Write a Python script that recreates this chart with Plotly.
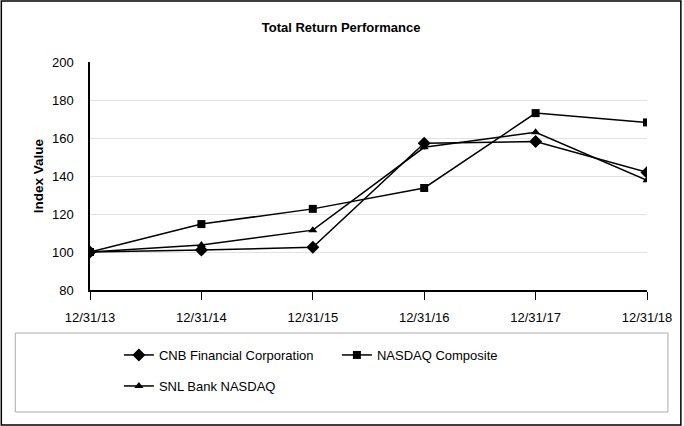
import plotly.graph_objects as go

dates = ["12/31/13", "12/31/14", "12/31/15", "12/31/16", "12/31/17", "12/31/18"]
cnb = [100.0, 101.0, 102.5, 157.2, 158.1, 141.9]
nasdaq = [100.0, 114.7, 122.7, 133.7, 173.1, 168.2]
snl = [100.0, 103.7, 111.5, 155.1, 163.0, 137.7]
y_ticks = [80, 100, 120, 140, 160, 180, 200]

W, H = 684, 426
L, R, T, B = 90, 35, 62, 136
pw, ph = W - L - R, H - T - B

def px(x):
    return (x - L) / pw

def py(y):
    return (H - B - y) / ph

FONT = "Liberation Sans, Arial, sans-serif"

fig = go.Figure()
fig.add_trace(go.Scatter(x=dates, y=cnb, name="CNB Financial Corporation", mode="lines+markers",
                         line=dict(color="black", width=1.5),
                         marker=dict(symbol="diamond", size=10, color="black"), legend="legend"))
fig.add_trace(go.Scatter(x=dates, y=nasdaq, name="NASDAQ Composite", mode="lines+markers",
                         line=dict(color="black", width=1.5),
                         marker=dict(symbol="square", size=8, color="black"), legend="legend"))
fig.add_trace(go.Scatter(x=dates, y=snl, name="SNL Bank NASDAQ", mode="lines+markers",
                         line=dict(color="black", width=1.5),
                         marker=dict(symbol="triangle-up", size=8, color="black"), legend="legend2"))

fig.update_layout(
    width=W, height=H, margin=dict(l=L, r=R, t=T, b=B),
    paper_bgcolor="white", plot_bgcolor="white",
    font=dict(family=FONT, size=13, color="black"),
    title=dict(text="<b>Total Return Performance</b>", x=(342 - L) / pw, xref="paper", xanchor="center",
               y=1 - 27 / H, yanchor="middle", font=dict(size=13)),
    xaxis=dict(type="category", range=[0, 5], showgrid=False, showline=True, linecolor="black",
               linewidth=1.5, ticks="outside", ticklen=8, tickcolor="black", tickwidth=1,
               ticklabelstandoff=7, tickfont=dict(size=13), zeroline=False, fixedrange=True),
    yaxis=dict(range=[80, 200], tickvals=y_ticks, showgrid=True, gridcolor="#e2e2e2", gridwidth=1,
               showline=True, linecolor="black", linewidth=1.5, ticks="", ticklabelstandoff=12,
               tickfont=dict(size=13),
               title=dict(text="<b>Index Value</b>", standoff=5, font=dict(size=13.5)),
               zeroline=False, fixedrange=True),
    legend=dict(orientation="h", x=px(119), y=py(355), xanchor="left", yanchor="middle",
                bgcolor="rgba(0,0,0,0)", font=dict(size=13), itemwidth=30,
                entrywidth=173, entrywidthmode="pixels"),
    legend2=dict(orientation="h", x=px(119), y=py(386), xanchor="left", yanchor="middle",
                 bgcolor="rgba(0,0,0,0)", font=dict(size=13), itemwidth=30),
    showlegend=True,
    shapes=[
        dict(type="rect", xref="paper", yref="paper", x0=px(1), x1=px(683), y0=py(425), y1=py(1),
             line=dict(color="black", width=1.5), fillcolor="rgba(0,0,0,0)", layer="below"),
        dict(type="rect", xref="paper", yref="paper", x0=px(15), x1=px(670), y0=py(412), y1=py(333),
             line=dict(color="#aaaaaa", width=1), fillcolor="rgba(0,0,0,0)", layer="below"),
    ],
)

fig.write_html("out.html")
